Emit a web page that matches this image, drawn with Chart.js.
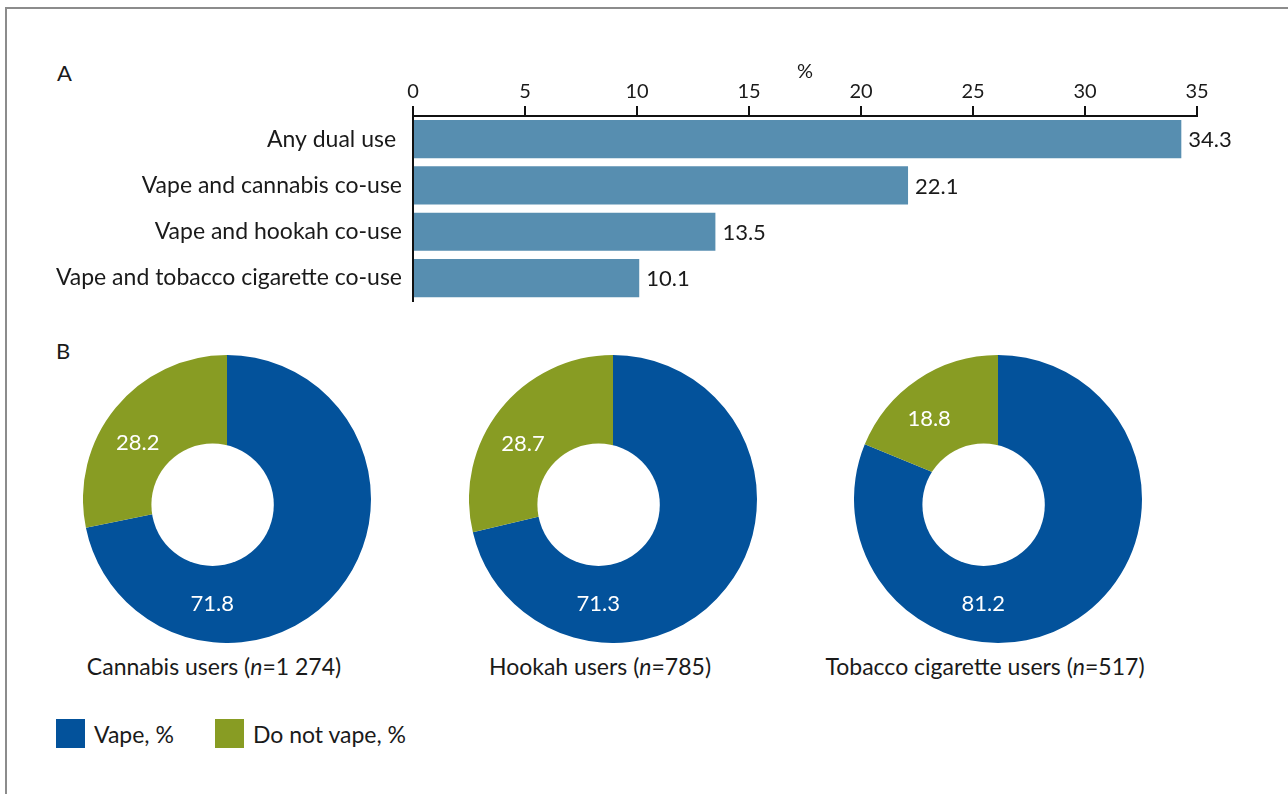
<!DOCTYPE html>
<html>
<head>
<meta charset="utf-8">
<script src="https://cdn.jsdelivr.net/npm/chart.js@4"></script>
<style>
  html, body { margin: 0; padding: 0; background: #fff; }
  body { width: 1288px; height: 794px; position: relative; overflow: hidden; font-family: Lato, sans-serif; color: #1a1a1a; }
  .frame { position: absolute; left: 5px; top: 7px; width: 1400px; height: 900px; border-top: 2px solid #8c8c8c; border-left: 2px solid #8c8c8c; }
  .panel { position: absolute; font-size: 22px; }
  canvas { position: absolute; }
  .caption { position: absolute; width: 400px; text-align: center; font-size: 23px; line-height: 28px; }
  .legend { position: absolute; left: 56px; top: 719px; display: flex; align-items: center; font-size: 23px; }
  .legend .sw { width: 29px; height: 29px; margin-right: 9px; }
  .legend .item { display: flex; align-items: center; margin-right: 41px; }
</style>
</head>
<body>
<div class="frame"></div>
<div class="panel" style="left:57px; top:59px;">A</div>
<div class="panel" style="left:56px; top:337px;">B</div>
<canvas id="barChart" width="1288" height="286" style="left:0; top:40px;"></canvas>
<div id="donuts"></div>
<div class="legend" id="legend"></div>

<script>
const categories = ['Any dual use ', 'Vape and cannabis co-use', 'Vape and hookah co-use', 'Vape and tobacco cigarette co-use'];
const dualUse = [34.3, 22.1, 13.5, 10.1];
const xMin = 0;
const xMax = 35;
const xStep = 5;

const groups = ['Cannabis users', 'Hookah users', 'Tobacco cigarette users'];
const groupN = ['1 274', '785', '517'];
const vapePct = [71.8, 71.3, 81.2];
const noVapePct = [28.2, 28.7, 18.8];
const seriesLabels = ['Vape, %', 'Do not vape, %'];

const barColor = '#578eb0';
const vapeColor = '#03529b';
const noVapeColor = '#889c23';

Chart.defaults.font.family = 'Lato, sans-serif';
Chart.defaults.color = '#1a1a1a';

// value labels to the right of each bar
const barValues = {
  id: 'barValues',
  afterDatasetsDraw(chart) {
    const ctx = chart.ctx;
    const meta = chart.getDatasetMeta(0);
    ctx.save();
    ctx.font = '22px Lato, sans-serif';
    ctx.fillStyle = '#1a1a1a';
    ctx.textAlign = 'left';
    ctx.textBaseline = 'middle';
    meta.data.forEach((bar, i) => {
      ctx.fillText(dualUse[i].toFixed(1), bar.x + 7, bar.y + 1);
    });
    ctx.restore();
  },
};

new Chart(document.getElementById('barChart'), {
  type: 'bar',
  data: {
    labels: categories,
    datasets: [{
      data: dualUse,
      backgroundColor: barColor,
      borderWidth: 0,
      barPercentage: 38 / 46,
      categoryPercentage: 1,
    }],
  },
  options: {
    indexAxis: 'y',
    responsive: false,
    animation: false,
    devicePixelRatio: 1,
    layout: { padding: { left: 0, right: 91, top: 0, bottom: 0 } },
    plugins: { legend: { display: false }, tooltip: { enabled: false } },
    scales: {
      x: {
        position: 'top',
        min: xMin,
        max: xMax,
        ticks: { stepSize: xStep, font: { size: 20 }, padding: 2, color: '#1a1a1a' },
        grid: { drawOnChartArea: false, drawTicks: true, tickLength: 10, color: '#111', lineWidth: 2 },
        border: { display: true, color: '#111', width: 2 },
        title: { display: true, text: '%', font: { size: 20 }, padding: { top: 20, bottom: 0 }, color: '#1a1a1a' },
        afterFit(scale) { scale.height = 76; },
      },
      y: {
        ticks: { font: { size: 23 }, padding: 11, color: '#1a1a1a' },
        grid: { drawOnChartArea: false, drawTicks: false },
        border: { display: true, color: '#111', width: 2 },
        afterFit(scale) { scale.width = 413; },
      },
    },
  },
  plugins: [barValues],
});

// pie with an off-centre white hole, and white labels inside the segments
const holeRatio = 0.425;
const holeShift = { x: -0.1, y: 0.04 };
const arcValues = {
  id: 'arcValues',
  afterDatasetsDraw(chart) {
    const ctx = chart.ctx;
    const values = chart.data.datasets[0].data;
    const arcs = chart.getDatasetMeta(0).data;
    const first = arcs[0].getProps(['x', 'y', 'outerRadius']);
    ctx.save();
    ctx.fillStyle = '#fff';
    ctx.beginPath();
    ctx.arc(first.x + holeShift.x * first.outerRadius, first.y + holeShift.y * first.outerRadius,
      holeRatio * first.outerRadius, 0, Math.PI * 2);
    ctx.fill();

    ctx.font = '22px Lato, sans-serif';
    ctx.textAlign = 'center';
    ctx.textBaseline = 'middle';
    arcs.forEach((arc, i) => {
      const { x, y, startAngle, endAngle, outerRadius } = arc.getProps(['x', 'y', 'startAngle', 'endAngle', 'outerRadius']);
      const bottom = Math.PI / 2;
      let a;
      if (startAngle <= bottom && endAngle >= bottom) {
        a = bottom + 0.14; // big segment: label near the bottom
      } else {
        a = (startAngle + endAngle) / 2 - 0.12;
      }
      const r = outerRadius * (1 + holeRatio) / 2 + 3;
      ctx.fillText(values[i].toFixed(1), x + Math.cos(a) * r, y + Math.sin(a) * r);
    });
    ctx.restore();
  },
};

const donutCenters = [227, 613, 998];
const donutWrap = document.getElementById('donuts');
groups.forEach((g, i) => {
  const c = document.createElement('canvas');
  c.width = 288;
  c.height = 288;
  c.style.left = (donutCenters[i] - 144) + 'px';
  c.style.top = '355px';
  donutWrap.appendChild(c);

  const cap = document.createElement('div');
  cap.className = 'caption';
  cap.style.left = (donutCenters[i] - 13 - 200) + 'px';
  cap.style.top = '652px';
  cap.innerHTML = g + ' (<i>n</i>=' + groupN[i] + ')';
  donutWrap.appendChild(cap);

  new Chart(c, {
    type: 'doughnut',
    data: {
      labels: seriesLabels,
      datasets: [{
        data: [vapePct[i], noVapePct[i]],
        backgroundColor: [vapeColor, noVapeColor],
        borderWidth: 0,
      }],
    },
    options: {
      responsive: false,
      animation: false,
      devicePixelRatio: 1,
      cutout: 0,
      plugins: { legend: { display: false }, tooltip: { enabled: false } },
    },
    plugins: [arcValues],
  });
});

const legendEl = document.getElementById('legend');
[vapeColor, noVapeColor].forEach((col, i) => {
  const item = document.createElement('div');
  item.className = 'item';
  item.innerHTML = '<div class="sw" style="background:' + col + '"></div><span>' + seriesLabels[i] + '</span>';
  legendEl.appendChild(item);
});
</script>
</body>
</html>
